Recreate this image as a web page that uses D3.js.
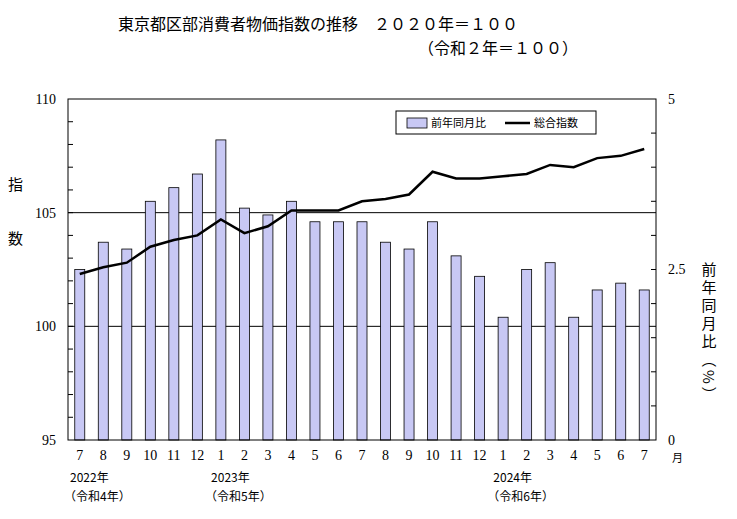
<!DOCTYPE html><html><head><meta charset="utf-8">
<script src="https://cdn.jsdelivr.net/npm/d3@7"></script>
<style>body{margin:0;background:#fff}text{font-family:"Noto Sans CJK JP",sans-serif;fill:#000}</style></head><body>
<svg id="c" width="737" height="519"></svg>
<script>
const months=["7","8","9","10","11","12","1","2","3","4","5","6","7","8","9","10","11","12","1","2","3","4","5","6","7"];
const yoy=[2.5,2.9,2.8,3.5,3.7,3.9,4.4,3.4,3.3,3.5,3.2,3.2,3.2,2.9,2.8,3.2,2.7,2.4,1.8,2.5,2.6,1.8,2.2,2.3,2.2];
const idx=[102.3,102.6,102.8,103.5,103.8,104.0,104.7,104.1,104.4,105.1,105.1,105.1,105.5,105.6,105.8,106.8,106.5,106.5,106.6,106.7,107.1,107.0,107.4,107.5,107.8];
const leftTicks=[95,100,105,110], rightTicks=[0,2.5,5];
const svg=d3.select("#c");
const L=68,R=656,T=99,B=440;
const x=d3.scaleBand().domain(d3.range(months.length)).range([L,R]);
const yL=d3.scaleLinear().domain([95,110]).range([B,T]);
const yR=d3.scaleLinear().domain([0,5]).range([B,T]);
[100,105].forEach(v=>svg.append("line").attr("x1",L).attr("x2",R).attr("y1",yL(v)).attr("y2",yL(v)).attr("stroke","#000"));
svg.selectAll("rect.b").data(yoy).join("rect").attr("x",(d,i)=>x(i)+x.bandwidth()/2-5).attr("width",10)
 .attr("y",d=>yR(d)).attr("height",d=>B-yR(d)).attr("fill","#c8c8f4").attr("stroke","#000").attr("stroke-width",0.8);
svg.append("path").datum(idx).attr("d",d3.line().x((d,i)=>x(i)+x.bandwidth()/2).y(d=>yL(d))).attr("fill","none").attr("stroke","#000").attr("stroke-width",2.5);
svg.append("rect").attr("x",L).attr("y",T).attr("width",R-L).attr("height",B-T).attr("fill","none").attr("stroke","#000");
d3.range(96,110).forEach(v=>svg.append("line").attr("x1",L).attr("x2",L+5).attr("y1",yL(v)).attr("y2",yL(v)).attr("stroke","#000"));
d3.range(0.5,5,0.5).forEach(v=>svg.append("line").attr("x1",R-5).attr("x2",R).attr("y1",yR(v)).attr("y2",yR(v)).attr("stroke","#000"));
const al=svg.append("g").attr("transform",`translate(${L},0)`).call(d3.axisLeft(yL).tickValues(leftTicks).tickSize(0).tickPadding(12));
const ar=svg.append("g").attr("transform",`translate(${R},0)`).call(d3.axisRight(yR).tickValues(rightTicks).tickFormat(d=>d).tickSize(0).tickPadding(12));
[al,ar].forEach(a=>{a.select(".domain").remove();a.selectAll("text").style("font-size","14px").style("font-family","Liberation Serif");});
const ax=svg.append("g").attr("transform",`translate(0,${B})`).call(d3.axisBottom(x).tickFormat(i=>months[i]).tickSize(0).tickPadding(10));
ax.select(".domain").remove();ax.selectAll("text").style("font-size","14px").style("font-family","Liberation Serif");
svg.append("text").attr("x",672).attr("y",462).attr("font-size",11).text("月");
[[x(0),"2022年","（令和4年）"],[x(6),"2023年","（令和5年）"],[x(18),"2024年","（令和6年）"]].forEach(([px,a,b])=>{
 svg.append("text").attr("x",px+2).attr("y",482).attr("font-size",12).text(a);
 svg.append("text").attr("x",px-4).attr("y",501).attr("font-size",12).text(b);});
svg.append("text").attr("x",118).attr("y",30).attr("font-size",16).text("東京都区部消費者物価指数の推移　２０２０年＝１００");
svg.append("text").attr("x",418).attr("y",54).attr("font-size",16).text("（令和２年＝１００）");
svg.append("text").attr("x",8).attr("y",190).attr("font-size",15).text("指");
svg.append("text").attr("x",8).attr("y",244).attr("font-size",15).text("数");
svg.append("text").attr("transform","translate(709,262)").attr("writing-mode","tb").attr("font-size",15).attr("letter-spacing",3).text("前年同月比（%）");
const lg=svg.append("g");
lg.append("rect").attr("x",396).attr("y",111).attr("width",200).attr("height",23).attr("fill","#fff").attr("stroke","#000");
lg.append("rect").attr("x",407).attr("y",118).attr("width",20).attr("height",10).attr("fill","#c8c8f4").attr("stroke","#000").attr("stroke-width",0.8);
lg.append("text").attr("x",431).attr("y",127).attr("font-size",11).text("前年同月比");
lg.append("line").attr("x1",505).attr("x2",530).attr("y1",123).attr("y2",123).attr("stroke","#000").attr("stroke-width",2.5);
lg.append("text").attr("x",534).attr("y",127).attr("font-size",11).text("総合指数");
</script></body></html>
